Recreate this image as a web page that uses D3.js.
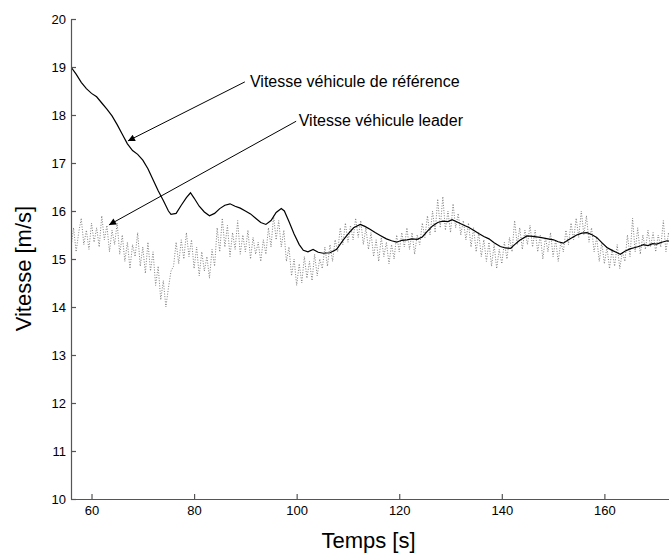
<!DOCTYPE html>
<html>
<head>
<meta charset="utf-8">
<script src="https://cdn.jsdelivr.net/npm/d3@7"></script>
<style>
  body { margin: 0; background: #fff; }
  svg { font-family: "Liberation Sans", Arial, sans-serif; }
  .axis path, .axis line { stroke: #555; stroke-width: 1.2; }
  .axis text { font-size: 13px; fill: #000; }
</style>
</head>
<body>
<svg class="chart" width="669" height="558"></svg>
<script>
// reference vehicle speed (solid line)
const refTime = [56, 57, 58, 59, 60, 61, 62, 63, 64, 65, 66, 67, 68, 69, 70, 71, 72, 73, 74, 75, 75.5,
  76.5, 77.5, 78.5, 79.3, 80, 81, 82, 83, 84, 85, 86, 87, 88, 89, 90, 91, 92, 93, 94, 95, 96, 97, 97.6,
  98.5, 99.5, 100.5, 101.3, 102.2, 103.2, 104.2, 105.2, 106.5, 107.8, 109.1, 110, 111.1, 112.4, 113.3,
  114.3, 115.3, 116.3, 117.5, 118.5, 119.5, 120.5, 121.5, 122.5, 123.5, 124.5, 125.5, 126.5, 127.5,
  128.5, 129.5, 130.3, 131.3, 132.5, 133.5, 134.5, 135.5, 136.5, 137.5, 138.5, 139.7, 140.7, 141.7,
  142.5, 143.5, 144.9, 146, 147.5, 149, 150.1, 151, 152, 153, 154.6, 155.6, 156.6, 157.5, 158.5, 159.5,
  160.5, 161.5, 162.3, 163.1, 164, 165, 166, 167, 167.6, 168.5, 169.4, 170.2, 171.2, 172.2, 173];
const refSpeed = [19.0, 18.85, 18.68, 18.55, 18.45, 18.38, 18.25, 18.12, 17.98, 17.8, 17.6, 17.4, 17.26,
  17.18, 17.06, 16.88, 16.65, 16.42, 16.22, 16.0, 15.93, 15.95, 16.12, 16.28, 16.38, 16.27, 16.1, 15.98,
  15.9, 15.95, 16.05, 16.12, 16.15, 16.1, 16.06, 16.0, 15.94, 15.85, 15.76, 15.72, 15.8, 15.97, 16.05,
  16.0, 15.78, 15.52, 15.3, 15.18, 15.15, 15.2, 15.14, 15.12, 15.13, 15.2, 15.4, 15.52, 15.65, 15.72,
  15.68, 15.62, 15.55, 15.49, 15.42, 15.38, 15.35, 15.39, 15.4, 15.42, 15.41, 15.46, 15.58, 15.69, 15.76,
  15.79, 15.78, 15.82, 15.77, 15.71, 15.66, 15.6, 15.53, 15.47, 15.42, 15.34, 15.26, 15.23, 15.22, 15.3,
  15.39, 15.48, 15.47, 15.45, 15.42, 15.4, 15.36, 15.33, 15.4, 15.5, 15.54, 15.55, 15.51, 15.45, 15.34,
  15.24, 15.18, 15.14, 15.1, 15.16, 15.21, 15.24, 15.27, 15.3, 15.28, 15.32, 15.31, 15.35, 15.38, 15.36];

// leader vehicle speed (dotted), sampled every 0.5 s from t = 56 s
const leaderStart = 56;
const leaderStep = 0.5;
const leaderSpeed = [
  15.25, 15.65, 15.15, 15.55, 15.85, 15.3, 15.6, 15.2, 15.75, 15.35,
  15.65, 15.25, 15.9, 15.4, 15.7, 15.15, 15.6, 15.3, 15.75, 15.1,
  15.5, 14.95, 15.35, 14.8, 15.3, 15.05, 15.55, 14.85, 15.25, 14.7,
  15.35, 14.75, 15.15, 14.45, 14.85, 14.15, 14.55, 14.0, 14.4, 14.75,
  14.85, 15.35, 14.9, 15.4, 15.0, 15.55, 15.05, 15.4, 14.8, 15.25,
  14.65, 15.15, 14.75, 15.05, 14.6, 15.2, 14.85, 15.65, 15.15, 15.85,
  15.25, 15.7, 15.05, 15.55, 15.2, 15.8, 15.1, 15.5, 15.15, 15.6,
  15.0, 15.45, 15.1, 15.35, 14.95, 15.4, 15.1, 15.65, 15.25, 15.9,
  15.4, 15.8, 15.25, 15.6, 14.95, 15.25, 14.65, 15.0, 14.45, 14.9,
  14.5, 15.05, 14.6, 14.95, 14.55, 15.1, 14.65, 15.0, 14.8, 15.25,
  14.85, 15.3, 14.95, 15.4, 15.15, 15.65, 15.3, 15.75, 15.35, 15.7,
  15.4, 15.85, 15.45, 15.8, 15.3, 15.65, 15.2, 15.55, 15.05, 15.4,
  14.95, 15.45, 15.05, 15.35, 14.9, 15.3, 15.0, 15.5, 15.15, 15.55,
  15.25, 15.65, 15.2, 15.55, 15.1, 15.5, 15.3, 15.75, 15.45, 15.9,
  15.5, 16.0, 15.55, 16.25, 15.65, 16.3, 15.6, 16.0, 15.55, 16.15,
  15.65, 15.95, 15.5, 15.8, 15.4, 15.75, 15.25, 15.65, 15.15, 15.55,
  15.05, 15.4, 14.95, 15.35, 14.85, 15.3, 14.8, 15.2, 14.9, 15.35,
  15.0, 15.45, 15.15, 15.8, 15.3, 15.65, 15.2, 15.6, 15.3, 15.7,
  15.25, 15.6, 15.15, 15.5, 15.0, 15.45, 15.15, 15.55, 15.05, 15.4,
  14.95, 15.35, 15.15, 15.6, 15.3, 15.75, 15.4, 15.85, 15.45, 16.0,
  15.5, 15.9, 15.35, 15.65, 15.15, 15.45, 14.95, 15.35, 14.9, 15.25,
  14.8, 15.2, 14.85, 15.3, 14.8, 15.15, 14.95, 15.5, 15.05, 15.85,
  15.15, 15.65, 15.1, 15.5, 15.2, 15.6, 15.25, 15.55, 15.15, 15.5,
  15.25, 15.8, 15.15, 15.55, 15.3];

const xTicks = [60, 80, 100, 120, 140, 160];
const yTicks = [10, 11, 12, 13, 14, 15, 16, 17, 18, 19, 20];

// annotations: [label, text anchor t, text v, arrow tip t, arrow tip v, arrow tail t, arrow tail v]
const notes = [
  ["Vitesse véhicule de référence", 90.9, 18.58, 67.1, 17.46, 89.9, 18.69],
  ["Vitesse véhicule leader", 100.4, 17.77, 63.4, 15.71, 99.9, 17.87]
];

const svg = d3.select(".chart");
const margin = {top: 19, right: 0, bottom: 59, left: 71};
const width = +svg.attr("width") - margin.left - margin.right;
const height = +svg.attr("height") - margin.top - margin.bottom;
const g = svg.append("g").attr("transform", `translate(${margin.left},${margin.top})`);

const x = d3.scaleLinear().domain([56, 172.6]).range([0, width]);
const y = d3.scaleLinear().domain([10, 20]).range([height, 0]);

g.append("clipPath").attr("id", "plot")
  .append("rect").attr("width", width).attr("height", height);

const leader = leaderSpeed.map((v, i) => [leaderStart + i * leaderStep, v]);
const ref = refTime.map((t, i) => [t, refSpeed[i]]);
const line = d3.line().x(d => x(d[0])).y(d => y(d[1]));

g.append("path")
  .datum(leader)
  .attr("clip-path", "url(#plot)")
  .attr("fill", "none")
  .attr("stroke", "#808080")
  .attr("stroke-width", 1)
  .attr("stroke-dasharray", "1,1.6")
  .attr("d", line);

g.append("path")
  .datum(ref)
  .attr("clip-path", "url(#plot)")
  .attr("fill", "none")
  .attr("stroke", "#000")
  .attr("stroke-width", 1.2)
  .attr("d", line);

// axes, ticks pointing inward
g.append("g")
  .attr("class", "axis")
  .attr("transform", `translate(0,${height})`)
  .call(d3.axisBottom(x).tickValues(xTicks).tickSizeInner(-5).tickSizeOuter(0).tickPadding(7));

g.append("g")
  .attr("class", "axis")
  .call(d3.axisLeft(y).tickValues(yTicks).tickSizeInner(-5).tickSizeOuter(0).tickPadding(5));

// arrows
svg.append("defs").append("marker")
  .attr("id", "head")
  .attr("viewBox", "0 0 10 10")
  .attr("refX", 10).attr("refY", 5)
  .attr("markerWidth", 12).attr("markerHeight", 7)
  .attr("markerUnits", "userSpaceOnUse")
  .attr("orient", "auto")
  .append("path").attr("d", "M0,0L10,5L0,10Z").attr("fill", "#000");

notes.forEach(n => {
  g.append("line")
    .attr("x1", x(n[5])).attr("y1", y(n[6]))
    .attr("x2", x(n[3])).attr("y2", y(n[4]))
    .attr("stroke", "#000").attr("stroke-width", 1)
    .attr("marker-end", "url(#head)");
  g.append("text")
    .attr("x", x(n[1])).attr("y", y(n[2]))
    .attr("font-size", 16)
    .text(n[0]);
});

// axis titles
svg.append("text")
  .attr("x", margin.left + x(114)).attr("y", 548)
  .attr("text-anchor", "middle")
  .attr("font-size", 22)
  .text("Temps [s]");

svg.append("text")
  .attr("transform", `translate(31,${margin.top + y(14.8)}) rotate(-90)`)
  .attr("text-anchor", "middle")
  .attr("font-size", 22)
  .text("Vitesse [m/s]");
</script>
</body>
</html>
